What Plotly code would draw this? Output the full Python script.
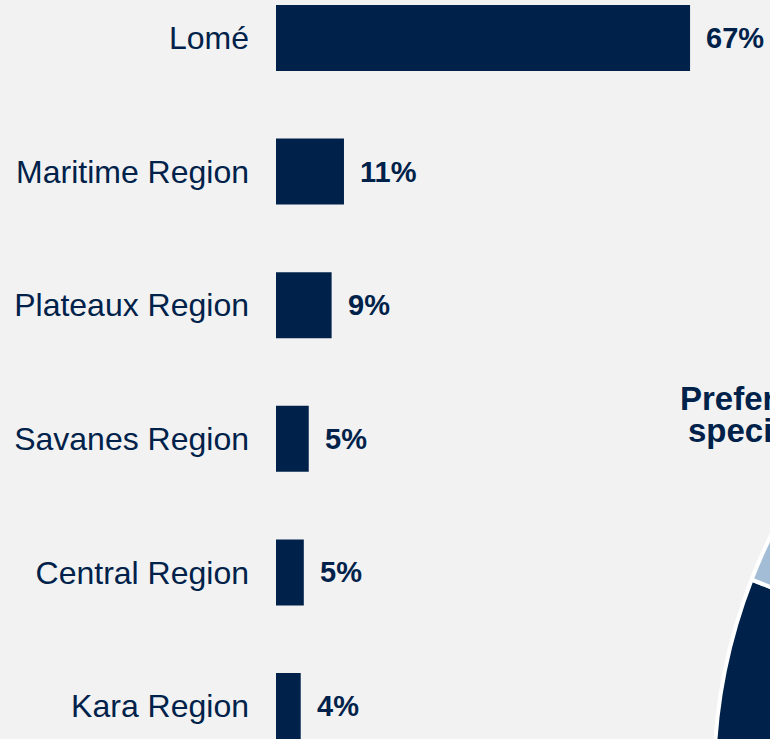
import plotly.graph_objects as go

# ---- data ----
regions = ["Lomé", "Maritime Region", "Plateaux Region", "Savanes Region", "Central Region", "Kara Region"]
shares = [67, 11, 9, 5.3, 4.5, 4]
share_labels = ["67%", "11%", "9%", "5%", "5%", "4%"]

pie_labels = ["Other", "Preferred"]
pie_values = [80.9, 19.1]
title_lines = ["Preferred region for", "specialist training"]

NAVY = "#00224A"
LIGHT = "#A3BDD7"
BG = "#F2F2F2"
FONT = "Liberation Sans, Arial, sans-serif"

W, H = 1900, 1400

fig = go.Figure()
fig.add_trace(go.Bar(
    x=shares, y=regions, orientation="h",
    marker=dict(color=NAVY, line=dict(width=0)),
    width=0.494, hoverinfo="skip",
))

for lab, v, r in zip(share_labels, shares, regions):
    fig.add_annotation(x=v, y=r, xref="x", yref="y", text=lab, showarrow=False,
                       xanchor="left", yanchor="middle", xshift=14,
                       font=dict(family=FONT, size=29, color=NAVY, weight="bold"))

# pie (only partially visible in window)
cx, cy, rad = 1267, 780, 553
fig.add_trace(go.Pie(
    labels=pie_labels, values=pie_values, sort=False, direction="clockwise", rotation=0,
    marker=dict(colors=[NAVY, LIGHT], line=dict(color="white", width=4)),
    textinfo="none", showlegend=False, hoverinfo="skip",
    domain=dict(x=[(cx - rad) / W, (cx + rad) / W], y=[1 - (cy + rad) / H, 1 - (cy - rad) / H]),
))

# title lines
fig.add_annotation(x=678 / W, y=1 - 399 / H, xref="paper", yref="paper", text="<b>" + title_lines[0] + "</b>",
                   showarrow=False, xanchor="left", yanchor="middle",
                   font=dict(family=FONT, size=33, color=NAVY))
fig.add_annotation(x=686 / W, y=1 - 431 / H, xref="paper", yref="paper", text="<b>" + title_lines[1] + "</b>",
                   showarrow=False, xanchor="left", yanchor="middle",
                   font=dict(family=FONT, size=33, color=NAVY))

fig.update_layout(
    width=W, height=H,
    margin=dict(l=0, r=0, t=0, b=0),
    paper_bgcolor=BG, plot_bgcolor=BG,
    showlegend=False,
    bargap=0.5,
    xaxis=dict(domain=[276 / W, 894 / W], range=[0, 100], visible=False, fixedrange=True),
    yaxis=dict(domain=[1 - 739 / H, 1], range=[5.247, -0.2844], type="category",
               showgrid=False, zeroline=False, showline=False, ticks="",
               ticklabelstandoff=26,
               tickfont=dict(family=FONT, size=32, color=NAVY), fixedrange=True),
)

fig.write_html("out.html", config={"displayModeBar": False},
               post_script="document.body.style.margin='0';document.body.style.overflow='hidden';")
